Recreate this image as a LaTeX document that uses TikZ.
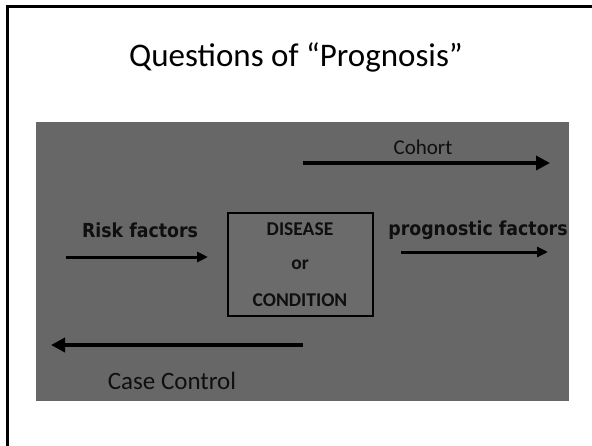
\documentclass[tikz,border=0pt]{standalone}
\usepackage{fontspec}
\setmainfont{Carlito}
\newfontfamily\comicfont{DejaVu Sans Condensed}
\usetikzlibrary{arrows.meta}
\definecolor{panelgray}{RGB}{103,103,103}
\definecolor{boxgray}{RGB}{107,107,107}
\definecolor{inktext}{RGB}{15,15,15}
\begin{document}
\begin{tikzpicture}[x=1pt,y=-1pt,
  lbl/.style={inner sep=0pt,text=inktext},
  comic/.style={lbl,font=\comicfont\bfseries\fontsize{19.3}{21}\selectfont},
  boxtxt/.style={lbl,font=\bfseries\fontsize{19.5}{21}\selectfont},
  bigarr/.style={-{Triangle[length=14pt,width=14pt]},line width=4.2pt},
  smallarr/.style={-{Triangle[length=11pt,width=10pt]},line width=3pt}]
\useasboundingbox (0,0) rectangle (592,445);
\fill[white] (0,0) rectangle (592,445);
% slide frame (top and left edges visible)
\draw[line width=3pt,black] (7,447) -- (7,6) -- (594,6);
% title
\node[lbl,text=black,font=\fontsize{33}{36}\selectfont] (title) at (296,57) {Questions of “Prognosis”};
% grey panel
\fill[panelgray] (36,122) rectangle (569,401);
% central box
\node[draw=black,line width=2.2pt,fill=boxgray,minimum width=145pt,minimum height=103pt,inner sep=0pt] (box) at (300.5,264.5) {};
\node[boxtxt] (dis) at (300,229) {DISEASE};
\node[boxtxt] (or) at (300,265) {or};
\node[boxtxt] (cond) at (300,300) {CONDITION};
% cohort
\node[lbl,font=\fontsize{21}{24}\selectfont] (cohort) at (423,147) {Cohort};
\coordinate (cohS) at (303,163);
\coordinate (cohE) at (550,163);
\draw[bigarr] (cohS) -- (cohE);
% risk factors
\node[comic] (risk) at (140,230) {Risk factors};
\coordinate (riskS) at (66,257);
\coordinate (riskE) at (208,257);
\draw[smallarr] (riskS) -- (riskE);
% prognostic factors
\node[comic] (prog) at (478,230) {prognostic factors};
\coordinate (progS) at (401,252);
\coordinate (progE) at (548,252);
\draw[smallarr] (progS) -- (progE);
% case control
\coordinate (ccS) at (303,345);
\coordinate (ccE) at (51,345);
\draw[bigarr,line width=4.6pt] (ccS) -- (ccE);
\node[lbl,font=\fontsize{25}{28}\selectfont] (cc) at (172,381) {Case Control};
\end{tikzpicture}
\end{document}
